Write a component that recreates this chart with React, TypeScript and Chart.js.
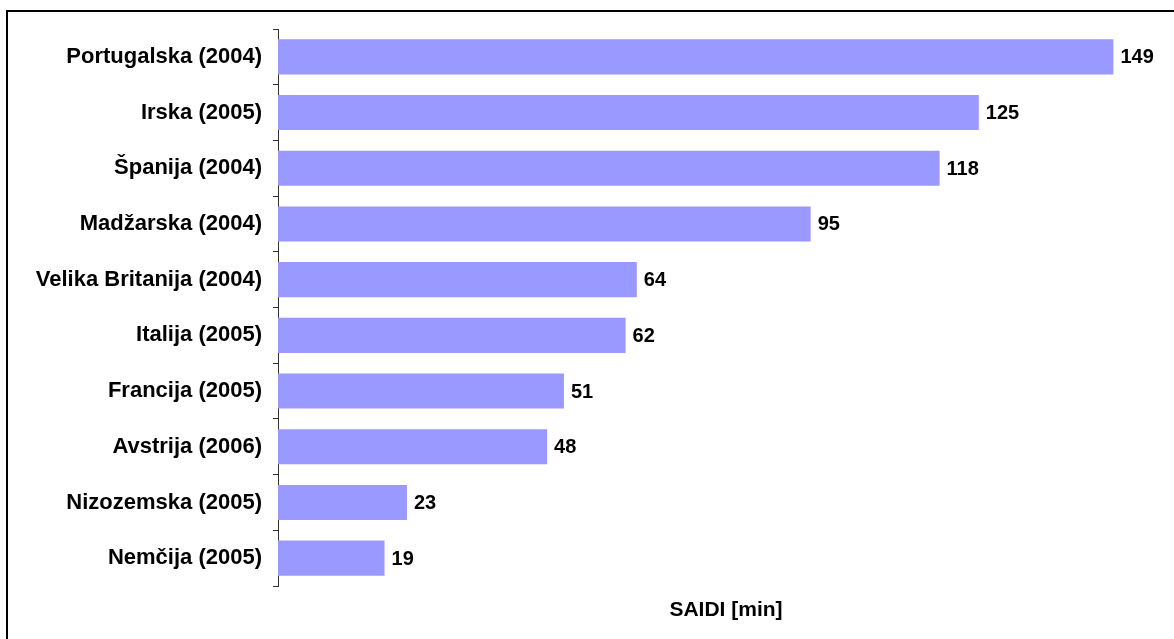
import React, { useEffect, useRef } from "react";
import { Chart, registerables } from "chart.js";

Chart.register(...registerables);

const categories = [
  "Portugalska (2004)",
  "Irska (2005)",
  "Španija (2004)",
  "Madžarska (2004)",
  "Velika Britanija (2004)",
  "Italija (2005)",
  "Francija (2005)",
  "Avstrija (2006)",
  "Nizozemska (2005)",
  "Nemčija (2005)",
];
const saidiValues = [149, 125, 118, 95, 64, 62, 51, 48, 23, 19];
const axisTitle = "SAIDI [min]";

const FONT = '"Liberation Sans", Arial, sans-serif';

const extrasPlugin = {
  id: "extras",
  afterDatasetsDraw(chart: any) {
    const ctx = chart.ctx;
    const meta = chart.getDatasetMeta(0);
    ctx.save();
    ctx.fillStyle = "#000";
    ctx.font = `bold 20px ${FONT}`;
    ctx.textAlign = "left";
    ctx.textBaseline = "middle";
    meta.data.forEach((bar: any, i: number) => {
      ctx.fillText(String(saidiValues[i]), bar.x + 7, bar.y + 1);
    });
    // axis title
    ctx.font = `bold 21px ${FONT}`;
    ctx.textAlign = "center";
    ctx.fillText(axisTitle, 726, 610);
    // frame (left and top)
    ctx.strokeStyle = "#000";
    ctx.lineWidth = 2;
    ctx.beginPath();
    ctx.moveTo(7, 639);
    ctx.lineTo(7, 11);
    ctx.lineTo(1174, 11);
    ctx.stroke();
    ctx.restore();
  },
};

export default function App() {
  const ref = useRef<HTMLCanvasElement | null>(null);
  useEffect(() => {
    if (!ref.current) return;
    const chart = new Chart(ref.current, {
      type: "bar",
      data: {
        labels: categories,
        datasets: [
          {
            data: saidiValues,
            backgroundColor: "#9999FF",
            borderWidth: 0,
            categoryPercentage: 1,
            barPercentage: 0.63,
          },
        ],
      },
      options: {
        indexAxis: "y",
        animation: false,
        responsive: false,
        maintainAspectRatio: false,
        layout: { padding: { left: 0, top: 29, right: 55, bottom: 53 } },
        plugins: {
          legend: { display: false },
          title: { display: false },
          tooltip: { enabled: false },
        },
        scales: {
          x: {
            display: false,
            min: 0,
            max: 150,
          },
          y: {
            afterFit: (scale: any) => {
              scale.width = 278;
            },
            grid: {
              display: true,
              drawOnChartArea: false,
              drawTicks: true,
              tickLength: 5,
              color: "#333",
              offset: true,
            },
            border: { display: true, color: "#333", width: 1 },
            ticks: {
              color: "#000",
              padding: 11,
              font: { family: FONT, size: 22, weight: "bold" },
            },
          },
        },
      },
      plugins: [extrasPlugin],
    });
    return () => chart.destroy();
  }, []);
  return (
    <div style={{ position: "fixed", left: 0, top: 0, width: 1174, height: 639, background: "#fff" }}>
      <canvas ref={ref} width={1174} height={639} style={{ display: "block" }} />
    </div>
  );
}
